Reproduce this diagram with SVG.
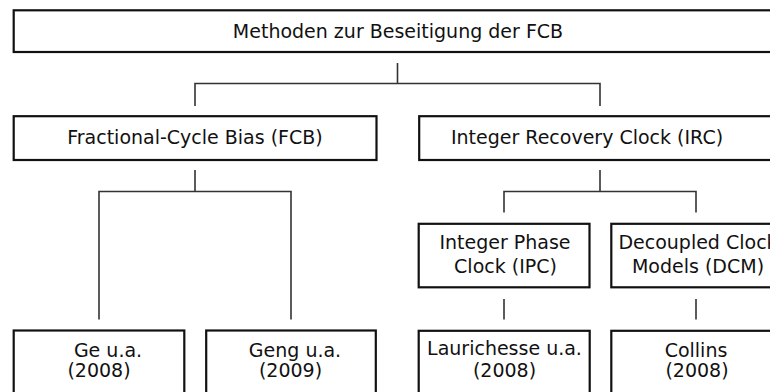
<svg xmlns="http://www.w3.org/2000/svg" width="770" height="392" viewBox="0 0 770 392">
<style>
.box{fill:#fff;stroke:#111;stroke-width:2.2}
.t{font-family:"DejaVu Sans",Verdana,sans-serif;font-size:19px;fill:#111;text-anchor:middle}
.c{fill:none;stroke:#333;stroke-width:1.6}
</style>
<rect width="770" height="392" fill="#fff"/>
<g id="connectors">
<path class="c" d="M397.5 63V83.5M195 106V83.5H600V106"/>
<path class="c" d="M195 170V191.5M99 319.5V191.5H291V319.5"/>
<path class="c" d="M600 170V191.5M504 212.5V191.5H696V212.5"/>
<path class="c" d="M504 299V319.5M696 299V319.5"/>
</g>
<g id="root"><rect class="box" x="13.7" y="10.3" width="770" height="41.7"/><text class="t" x="398" y="38">Methoden zur Beseitigung der FCB</text></g>
<g id="fcb"><rect class="box" x="13.7" y="116.2" width="362.8" height="43.8"/><text class="t" x="195" y="144">Fractional-Cycle Bias (FCB)</text></g>
<g id="irc"><rect class="box" x="419.2" y="116.2" width="361.6" height="43.8"/><text class="t" x="587" y="144">Integer Recovery Clock (IRC)</text></g>
<g id="ipc"><rect class="box" x="418.7" y="223.8" width="170.8" height="63.5"/><text class="t" x="505" y="249">Integer Phase</text><text class="t" x="505.5" y="273">Clock (IPC)</text></g>
<g id="dcm"><rect class="box" x="611.3" y="223.8" width="169.4" height="63.5"/><text class="t" x="698" y="249">Decoupled Clock</text><text class="t" x="698" y="273">Models (DCM)</text></g>
<g id="ge"><rect class="box" x="13.7" y="330.5" width="170.6" height="80"/><text class="t" x="108" y="357">Ge u.a.</text><text class="t" x="99" y="377">(2008)</text></g>
<g id="geng"><rect class="box" x="206.2" y="330.5" width="169.6" height="80"/><text class="t" x="295" y="357">Geng u.a.</text><text class="t" x="290.5" y="377">(2009)</text></g>
<g id="laurichesse"><rect class="box" x="418.7" y="330.8" width="171" height="80"/><text class="t" x="504.5" y="355">Laurichesse u.a.</text><text class="t" x="504.5" y="377">(2008)</text></g>
<g id="collins"><rect class="box" x="611.3" y="330.8" width="169.4" height="80"/><text class="t" x="696" y="357">Collins</text><text class="t" x="697" y="377">(2008)</text></g>
</svg>
